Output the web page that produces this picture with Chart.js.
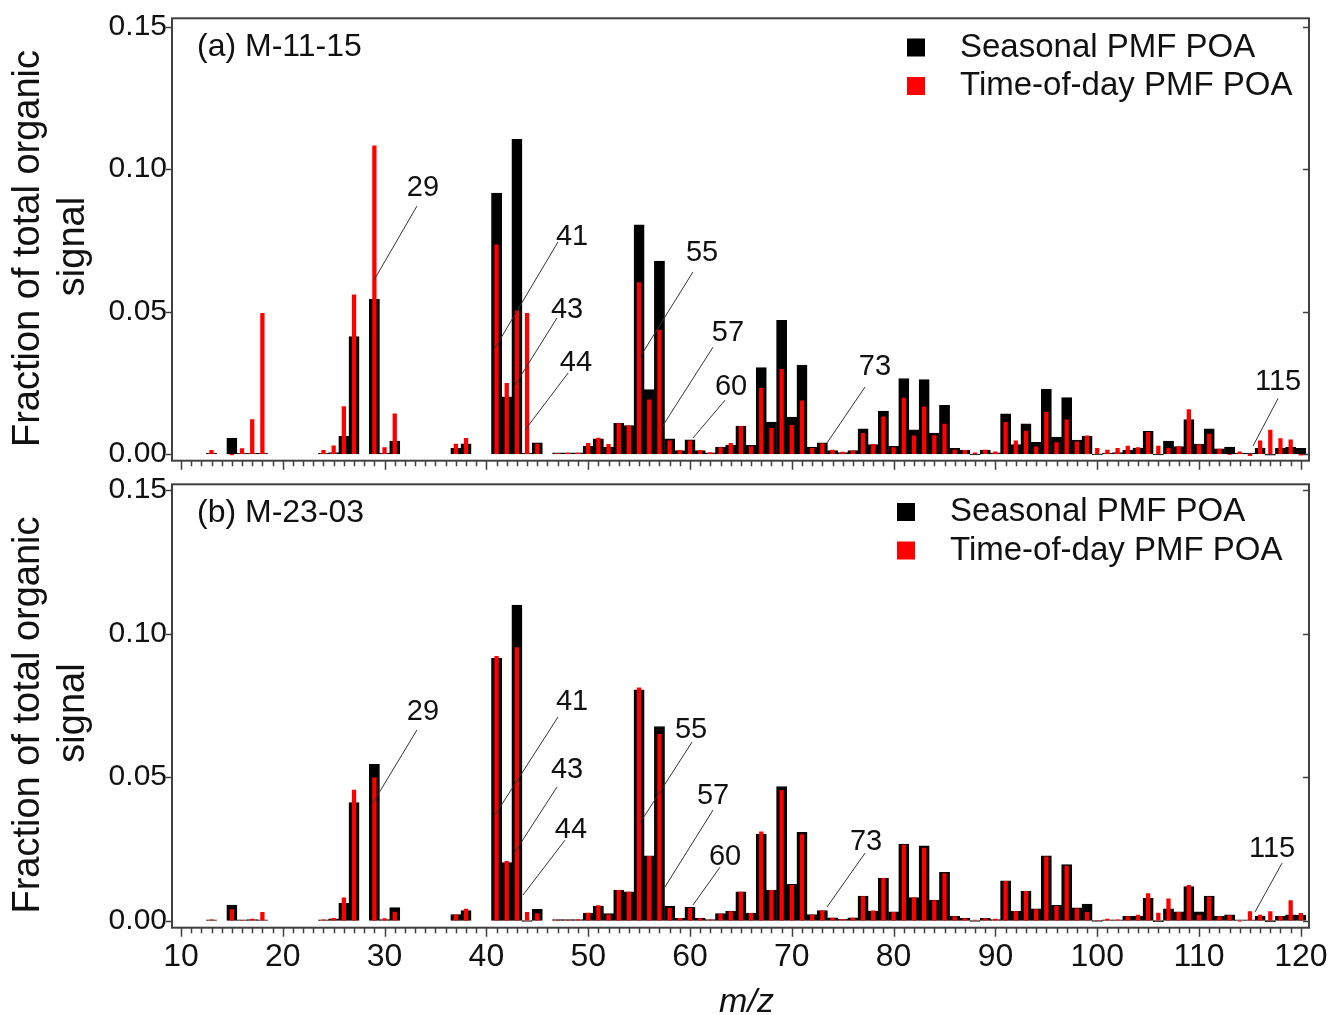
<!DOCTYPE html>
<html>
<head>
<meta charset="utf-8">
<title>POA mass spectra</title>
<script src="https://cdn.jsdelivr.net/npm/chart.js@4.4.1/dist/chart.umd.min.js"></script>
<style>
  html, body { margin: 0; padding: 0; background: #fff; overflow: hidden; }
  #wrap { position: relative; width: 1332px; height: 1015px; }
  canvas { position: absolute; left: 0; }
  #chartA { top: 0; }
  #chartB { top: 475px; }
</style>
</head>
<body>
<div id="wrap">
  <canvas id="chartA" width="1332" height="475"></canvas>
  <canvas id="chartB" width="1332" height="540"></canvas>
</div>
<script>
// ---------------- DATA ----------------
// m/z values shown in both spectra
const mzList = [
  13, 15, 16, 17, 18, 24, 25, 26, 27, 29, 30, 31, 37, 38, 41, 42, 43, 44, 45,
  47, 48, 49, 50, 51, 52, 53, 54, 55, 56,
  57, 58, 59, 60, 61, 62, 63, 64, 65, 66,
  67, 68, 69, 70, 71, 72, 73, 74, 75, 76,
  77, 78, 79, 80, 81, 82, 83, 84, 85, 86,
  87, 88, 89, 90, 91, 92, 93, 94, 95, 96,
  97, 98, 99, 100, 101, 102, 103, 104, 105, 106,
  107, 108, 109, 110, 111, 112, 113, 114, 115, 116,
  117, 118, 119, 120
];

// (a) M-11-15
const seasonalA = [
  0.0003, 0.0056, 0.0002, 0.0002, 0.0002, 0.0002, 0.0005, 0.0062, 0.0412, 0.0543, 0.0003, 0.0045, 0.0020, 0.0036, 0.0916, 0.0201, 0.1104, 0.0003, 0.0039,
  0.0004, 0.0004, 0.0004, 0.0027, 0.0053, 0.0024, 0.0108, 0.0100, 0.0804, 0.0226,
  0.0677, 0.0053, 0.0012, 0.0050, 0.0012, 0.0004, 0.0024, 0.0030, 0.0098, 0.0030,
  0.0303, 0.0112, 0.0469, 0.0130, 0.0312, 0.0024, 0.0039, 0.0012, 0.0005, 0.0012,
  0.0088, 0.0033, 0.0151, 0.0027, 0.0265, 0.0085, 0.0261, 0.0073, 0.0171, 0.0020,
  0.0014, -0.0003, 0.0014, 0.0004, 0.0141, 0.0033, 0.0106, 0.0041, 0.0227, 0.0059,
  0.0198, 0.0049, 0.0062, -0.0002, 0.0003, 0.0005, 0.0014, 0.0021, 0.0080, -0.0003,
  0.0045, 0.0026, 0.0121, 0.0035, 0.0088, 0.0018, 0.0024, 0.0003, 0.0003, 0.0020,
  -0.0004, 0.0020, 0.0024, 0.0020
];
const timeOfDayA = [
  0.0014, -0.0004, 0.0020, 0.0122, 0.0495, 0.0014, 0.0030, 0.0168, 0.0560, 0.1083, 0.0024, 0.0142, 0.0036, 0.0056, 0.0735, 0.0249, 0.0504, 0.0495, 0.0036,
  0.0003, 0.0004, 0.0004, 0.0039, 0.0057, 0.0035, 0.0108, 0.0100, 0.0603, 0.0191,
  0.0436, 0.0047, 0.0014, 0.0047, 0.0014, 0.0006, 0.0024, 0.0039, 0.0098, 0.0027,
  0.0232, 0.0091, 0.0298, 0.0102, 0.0188, 0.0021, 0.0038, 0.0015, 0.0008, 0.0012,
  0.0074, 0.0035, 0.0132, 0.0024, 0.0197, 0.0065, 0.0167, 0.0066, 0.0106, 0.0015,
  0.0014, 0.0005, 0.0015, 0.0009, 0.0112, 0.0047, 0.0082, 0.0026, 0.0147, 0.0041,
  0.0121, 0.0044, 0.0065, 0.0021, 0.0015, 0.0021, 0.0029, 0.0024, 0.0077, 0.0029,
  0.0021, 0.0027, 0.0157, 0.0033, 0.0071, 0.0018, -0.0003, 0.0009, -0.0007, 0.0047,
  0.0085, 0.0055, 0.0051, -0.0005
];

// (b) M-23-03
const seasonalB = [
  0.0002, 0.0054, 0.0002, 0.0003, 0.0002, 0.0002, 0.0006, 0.0060, 0.0411, 0.0544, 0.0003, 0.0045, 0.0021, 0.0035, 0.0914, 0.0202, 0.1099, -0.0003, 0.0039,
  0.0003, 0.0003, 0.0003, 0.0026, 0.0050, 0.0024, 0.0106, 0.0100, 0.0804, 0.0225,
  0.0676, 0.0050, 0.0008, 0.0046, 0.0008, 0.0003, 0.0024, 0.0032, 0.0100, 0.0026,
  0.0301, 0.0106, 0.0467, 0.0126, 0.0307, 0.0021, 0.0035, 0.0009, 0.0004, 0.0009,
  0.0085, 0.0033, 0.0148, 0.0030, 0.0266, 0.0080, 0.0260, 0.0071, 0.0168, 0.0015,
  0.0008, -0.0003, 0.0008, 0.0003, 0.0138, 0.0032, 0.0103, 0.0041, 0.0225, 0.0053,
  0.0195, 0.0044, 0.0057, -0.0003, 0.0002, 0.0002, 0.0015, 0.0015, 0.0077, -0.0004,
  0.0041, 0.0030, 0.0118, 0.0030, 0.0085, 0.0015, 0.0020, 0.0002, 0.0002, 0.0015,
  -0.0005, 0.0015, 0.0020, 0.0018
];
const timeOfDayB = [
  0.0004, 0.0039, 0.0002, 0.0006, 0.0030, 0.0004, 0.0009, 0.0080, 0.0456, 0.0498, 0.0008, 0.0031, 0.0021, 0.0041, 0.0922, 0.0207, 0.0952, 0.0030, 0.0025,
  0.0003, 0.0003, 0.0004, 0.0027, 0.0053, 0.0021, 0.0106, 0.0100, 0.0812, 0.0225,
  0.0650, 0.0044, 0.0009, 0.0044, 0.0008, 0.0004, 0.0024, 0.0032, 0.0100, 0.0026,
  0.0310, 0.0106, 0.0455, 0.0124, 0.0301, 0.0020, 0.0035, 0.0010, 0.0005, 0.0010,
  0.0085, 0.0035, 0.0148, 0.0030, 0.0264, 0.0080, 0.0254, 0.0071, 0.0165, 0.0015,
  0.0008, 0.0003, 0.0008, 0.0006, 0.0138, 0.0032, 0.0103, 0.0039, 0.0223, 0.0051,
  0.0191, 0.0042, 0.0030, 0.0002, 0.0006, 0.0004, 0.0015, 0.0020, 0.0095, 0.0027,
  0.0077, 0.0030, 0.0124, 0.0020, 0.0083, 0.0015, 0.0018, -0.0003, 0.0032, 0.0020,
  0.0032, 0.0015, 0.0071, 0.0026
];

const seriesNames = ['Seasonal PMF POA', 'Time-of-day PMF POA'];
const xTickValues = [10, 20, 30, 40, 50, 60, 70, 80, 90, 100, 110, 120];
const yTickValues = [0, 0.05, 0.10, 0.15];

// peak labels: centre of the number [m/z, fraction], leader line [from m/z, from fraction, to m/z, to fraction]
const peakLabels = ['29', '41', '43', '44', '55', '57', '60', '73', '115'];
const labelPosA = [[33.77, 0.0933], [48.41, 0.0761], [47.92, 0.0505], [48.80, 0.0319], [61.18, 0.0705], [63.73, 0.0425], [64.03, 0.0235], [78.17, 0.0305], [117.76, 0.0253]];
const leaderA = [[33.18, 0.0870, 28.96, 0.0610], [47.03, 0.0744, 40.85, 0.0372], [46.93, 0.0477, 42.81, 0.0242], [48.02, 0.0284, 43.79, 0.0084], [60.29, 0.0639, 55.09, 0.0340], [62.26, 0.0375, 57.25, 0.0095], [63.44, 0.0189, 60.29, 0.0056], [77.19, 0.0235, 73.46, 0.0039], [117.76, 0.0195, 115.30, 0.0028]];
const labelPosB = [[33.77, 0.0727], [48.41, 0.0762], [47.92, 0.0524], [48.31, 0.0315], [60.10, 0.0664], [62.26, 0.0434], [63.44, 0.0221], [77.29, 0.0274], [117.17, 0.0249]];
const leaderB = [[33.18, 0.0664, 28.86, 0.0410], [47.03, 0.0709, 40.85, 0.0368], [46.93, 0.0465, 42.81, 0.0239], [47.72, 0.0280, 43.60, 0.0089], [60.20, 0.0622, 55.09, 0.0340], [62.26, 0.0385, 57.54, 0.0117], [62.95, 0.0186, 60.29, 0.0054], [77.19, 0.0235, 73.46, 0.0047], [118.15, 0.0200, 115.50, 0.0030]];

// ---------------- STYLE ----------------
const FONT = "'Liberation Sans', Arial, Helvetica, sans-serif";
const INK = '#111';
const FRAME = '#404040';
Chart.defaults.font.family = FONT;

// ---------------- DECORATION PLUGIN ----------------
// frame, tick marks, legend, panel title, peak labels and axis titles
function makeDecor(opt) {
  return {
    id: 'panelDecor',
    afterDraw(chart) {
      const { ctx, chartArea: a, scales: { x, y } } = chart;
      ctx.save();

      // frame
      ctx.strokeStyle = FRAME;
      ctx.lineWidth = 2;
      ctx.strokeRect(a.left, a.top, a.right - a.left, a.bottom - a.top);

      // x tick marks (minor every 1, major every 10)
      ctx.lineWidth = 1.5;
      ctx.beginPath();
      for (let v = 10; v <= 120; v++) {
        const px = Math.round(x.getPixelForValue(v)) + 0.5;
        const len = v % 10 === 0 ? 9 : 5.5;
        ctx.moveTo(px, a.bottom);
        ctx.lineTo(px, a.bottom + len);
      }
      // y tick marks, outside on the left, inside on the right
      yTickValues.forEach(v => {
        const py = Math.round(y.getPixelForValue(v)) + 0.5;
        ctx.moveTo(a.left - 6, py);
        ctx.lineTo(a.left, py);
        ctx.moveTo(a.right - 6, py);
        ctx.lineTo(a.right, py);
      });
      ctx.stroke();

      // leader lines
      ctx.strokeStyle = '#333';
      ctx.lineWidth = 1;
      ctx.beginPath();
      opt.leaders.forEach(l => {
        ctx.moveTo(x.getPixelForValue(l[0]), y.getPixelForValue(l[1]));
        ctx.lineTo(x.getPixelForValue(l[2]), y.getPixelForValue(l[3]));
      });
      ctx.stroke();

      // peak numbers
      ctx.fillStyle = INK;
      ctx.font = `29px ${FONT}`;
      ctx.textAlign = 'center';
      ctx.textBaseline = 'middle';
      peakLabels.forEach((t, i) => {
        const p = opt.labelPos[i];
        ctx.fillText(t, x.getPixelForValue(p[0]), y.getPixelForValue(p[1]));
      });

      // panel title
      ctx.textAlign = 'left';
      ctx.font = `32px ${FONT}`;
      ctx.fillText(opt.title, a.left + 25, a.top + 29);

      // legend
      ctx.font = `33px ${FONT}`;
      chart.data.datasets.forEach((ds, i) => {
        const cy = a.top + opt.legendTop + i * 38.5;
        ctx.fillStyle = ds.backgroundColor;
        ctx.fillRect(a.right - opt.legendRight, cy - 9, 18, 18);
        ctx.fillStyle = INK;
        ctx.fillText(ds.label, a.right - opt.legendRight + 53, cy);
      });

      // y axis title
      const cy = (a.top + a.bottom) / 2 + 9;
      ctx.font = `38px ${FONT}`;
      ctx.textAlign = 'center';
      ctx.save();
      ctx.translate(29, cy);
      ctx.rotate(-Math.PI / 2);
      ctx.fillText('Fraction of total organic', 0, 0);
      ctx.restore();
      ctx.save();
      ctx.translate(74, cy - 2);
      ctx.rotate(-Math.PI / 2);
      ctx.fillText('signal', 0, 0);
      ctx.restore();

      // x axis title
      if (opt.xTitle) {
        ctx.font = `italic 34px ${FONT}`;
        ctx.fillText('m/z', (a.left + a.right) / 2 + 6, a.bottom + 75);
      }
      ctx.restore();
    }
  };
}

// ---------------- BUILD ONE PANEL ----------------
function buildPanel(canvasId, seasonal, timeOfDay, opt) {
  const toPoints = vals => mzList.map((m, i) => ({ x: m, y: vals[i] }));

  return new Chart(document.getElementById(canvasId), {
    type: 'bar',
    data: {
      datasets: [
        {
          label: seriesNames[0],
          data: toPoints(seasonal),
          backgroundColor: '#000000',
          borderColor: '#000000',
          borderWidth: 1,
          borderSkipped: false,
          grouped: false,
          barPercentage: 1,
          categoryPercentage: 1,
          order: 2
        },
        {
          label: seriesNames[1],
          data: toPoints(timeOfDay),
          backgroundColor: '#ff0000',
          borderWidth: 0,
          grouped: false,
          barPercentage: 0.42,
          categoryPercentage: 1,
          order: 1
        }
      ]
    },
    options: {
      responsive: false,
      animation: false,
      events: [],
      layout: { padding: opt.padding },
      plugins: {
        legend: { display: false },
        tooltip: { enabled: false }
      },
      scales: {
        x: {
          type: 'linear',
          min: 9.12,
          max: 120.8,
          offset: false,
          grid: { display: false, drawTicks: false },
          border: { display: false },
          afterBuildTicks: s => { s.ticks = xTickValues.map(v => ({ value: v })); },
          ticks: {
            display: opt.xLabels,
            autoSkip: false,
            maxRotation: 0,
            padding: 10,
            color: INK,
            font: { size: 32 }
          },
          afterFit: s => { s.height = opt.xAxisHeight; s.paddingLeft = 0; s.paddingRight = 0; }
        },
        y: {
          min: opt.yMin,
          max: opt.yMax,
          grid: { display: false, drawTicks: false },
          border: { display: false },
          afterBuildTicks: s => { s.ticks = yTickValues.map(v => ({ value: v })); },
          ticks: {
            padding: 5,
            color: INK,
            font: { size: 30 },
            callback: v => Number(v).toFixed(2)
          },
          afterFit: s => { s.width = 172; s.paddingTop = 0; s.paddingBottom = 0; }
        }
      }
    },
    plugins: [makeDecor(opt)]
  });
}

// ---------------- RENDER ----------------
buildPanel('chartA', seasonalA, timeOfDayA, {
  title: '(a) M-11-15',
  padding: { top: 18.3, right: 23, bottom: 14.3, left: 0 },
  xAxisHeight: 0,
  xLabels: false,
  xTitle: false,
  yMin: -0.00235,
  yMax: 0.1529,
  legendRight: 402,
  legendTop: 29.2,
  labelPos: labelPosA,
  leaders: leaderA
});

buildPanel('chartB', seasonalB, timeOfDayB, {
  title: '(b) M-23-03',
  padding: { top: 9.3, right: 23, bottom: 0, left: 0 },
  xAxisHeight: 87.3,
  xLabels: true,
  xTitle: true,
  yMin: -0.0025,
  yMax: 0.152,
  legendRight: 412,
  legendTop: 27.7,
  labelPos: labelPosB,
  leaders: leaderB
});
</script>
</body>
</html>
